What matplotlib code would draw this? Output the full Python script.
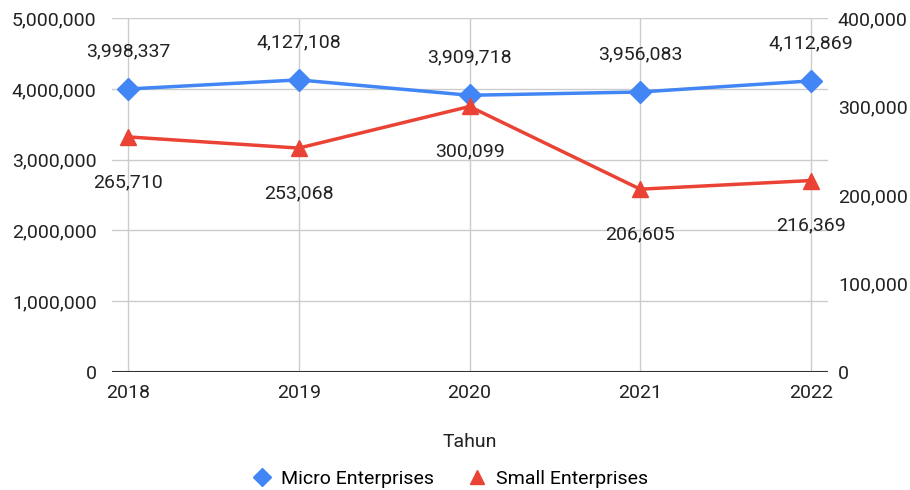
import matplotlib.pyplot as plt
from matplotlib.ticker import FuncFormatter

years = ["2018", "2019", "2020", "2021", "2022"]
micro = [3998337, 4127108, 3909718, 3956083, 4112869]
small = [265710, 253068, 300099, 206605, 216369]

plt.rcParams['font.family'] = ['Roboto', 'DejaVu Sans']
FS = 14

fig = plt.figure(figsize=(9.1, 4.9), dpi=100)
ax = fig.add_axes([0.123, 0.241, 0.787, 0.722])
ax2 = ax.twinx()

x = list(range(len(years)))
fmt = FuncFormatter(lambda v, p: f"{int(v):,}")

ax.plot(x, micro, color='#4285F4', lw=2.5, marker='D', ms=11, zorder=3,
        label='Micro Enterprises')
ax2.plot(x, small, color='#EA4335', lw=2.5, marker='^', ms=12, zorder=3,
         label='Small Enterprises')

for xi, v in zip(x, micro):
    ax.annotate(f"{v:,}", (xi, v), xytext=(0, 38), textcoords='offset pixels',
                ha='center', va='center', fontsize=FS, color='#222222')
for xi, v in zip(x, small):
    ax2.annotate(f"{v:,}", (xi, v), xytext=(0, -45), textcoords='offset pixels',
                 ha='center', va='center', fontsize=FS, color='#222222')

ax.set_xlim(-0.094, 4.1)
ax.set_ylim(0, 5000000)
ax2.set_ylim(0, 400000)
ax.set_yticks(range(0, 5000001, 1000000))
ax2.set_yticks(range(0, 400001, 100000))
ax.yaxis.set_major_formatter(fmt)
ax2.yaxis.set_major_formatter(fmt)
ax.set_xticks(x)
ax.set_xticklabels(years)

ax.grid(True, color='#cccccc', lw=1)
ax.set_axisbelow(True)
for a in (ax, ax2):
    for s in a.spines.values():
        s.set_visible(False)
    a.tick_params(length=0, labelsize=FS, colors='#222222')
ax.tick_params(axis='x', pad=9)
ax.tick_params(axis='y', pad=11)
ax2.tick_params(axis='y', pad=7)
ax.axhline(0, color='#333333', lw=1.5, zorder=4)

ax.set_xlabel('Tahun', fontsize=FS, color='#222222', labelpad=22)

h1, l1 = ax.get_legend_handles_labels()
h2, l2 = ax2.get_legend_handles_labels()
fig.legend(h1 + h2, l1 + l2, loc='center', bbox_to_anchor=(0.5, 0.022),
           ncol=2, frameon=False, fontsize=FS, handlelength=0,
           handletextpad=1.0, columnspacing=2.2, markerscale=0.8)
for lh in fig.legends[0].legend_handles:
    lh.set_linestyle('none')

fig.savefig('out.png', dpi=100)
